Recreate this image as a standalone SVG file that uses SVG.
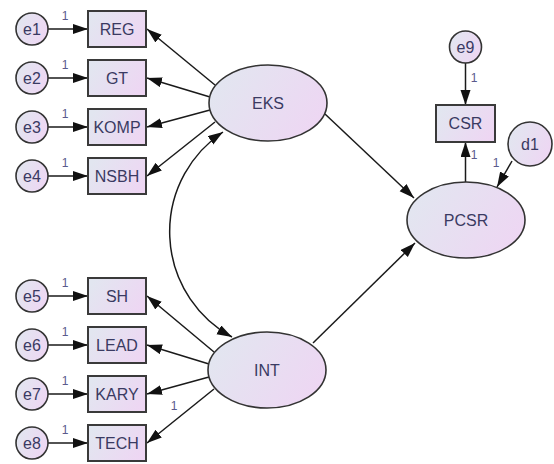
<svg xmlns="http://www.w3.org/2000/svg" width="554" height="464" viewBox="0 0 554 464">
  <defs>
    <linearGradient id="fillGrad" x1="0" y1="0.3" x2="1" y2="0.7">
      <stop offset="0" stop-color="#e2e6f0"/>
      <stop offset="1" stop-color="#eed6f3"/>
    </linearGradient>
    <marker id="arrow" markerUnits="userSpaceOnUse" markerWidth="16" markerHeight="11" refX="15" refY="5" orient="auto-start-reverse">
      <path d="M0,0 L15,5 L0,10 z" fill="#111"/>
    </marker>
    <style>
      .obs { fill: url(#fillGrad); stroke: #3a3a3a; stroke-width: 2; }
      .lat { fill: url(#fillGrad); stroke: #333; stroke-width: 1.6; }
      .err { fill: url(#fillGrad); stroke: #333; stroke-width: 1.6; }
      .lbl { font-family: "Liberation Sans", Arial, sans-serif; font-size: 16px; fill: #3a3a62; text-anchor: middle; }
      .one { font-family: "Liberation Sans", Arial, sans-serif; font-size: 12px; fill: #5a5a8c; text-anchor: middle; }
      .edge { stroke: #1a1a1a; stroke-width: 1.5; fill: none; marker-end: url(#arrow); }
      .cov { stroke: #1a1a1a; stroke-width: 1.5; fill: none; marker-end: url(#arrow); marker-start: url(#arrow); }
    </style>
  </defs>

  <!-- paths and the covariance arc -->
  <g id="connectors">
    <!-- error terms into indicators -->
    <line class="edge" x1="48" y1="29" x2="88" y2="29"/>
    <line class="edge" x1="48" y1="78" x2="88" y2="78"/>
    <line class="edge" x1="48" y1="127" x2="88" y2="127"/>
    <line class="edge" x1="48" y1="176" x2="88" y2="176"/>
    <line class="edge" x1="48" y1="296" x2="88" y2="296"/>
    <line class="edge" x1="48" y1="345" x2="88" y2="345"/>
    <line class="edge" x1="48" y1="394" x2="88" y2="394"/>
    <line class="edge" x1="48" y1="443" x2="88" y2="443"/>
    <!-- EKS loadings -->
    <line class="edge" x1="215" y1="85" x2="147" y2="29"/>
    <line class="edge" x1="210" y1="97" x2="147" y2="78"/>
    <line class="edge" x1="210" y1="110" x2="147" y2="127"/>
    <line class="edge" x1="215" y1="122" x2="147" y2="176"/>
    <!-- INT loadings -->
    <line class="edge" x1="214" y1="352" x2="147" y2="296"/>
    <line class="edge" x1="209" y1="364" x2="147" y2="345"/>
    <line class="edge" x1="209" y1="377" x2="147" y2="394"/>
    <line class="edge" x1="214" y1="389" x2="147" y2="443"/>
    <!-- structural paths -->
    <line class="edge" x1="325" y1="114" x2="414" y2="198"/>
    <line class="edge" x1="313" y1="343" x2="415" y2="243"/>
    <line class="edge" x1="465.5" y1="182" x2="465.5" y2="142"/>
    <line class="edge" x1="465.5" y1="63" x2="465.5" y2="105"/>
    <line class="edge" x1="512" y1="161" x2="497" y2="187"/>
    <!-- EKS <-> INT -->
    <path class="cov" d="M223,132 A120,120 0 0 0 232,337"/>
    <!-- fixed weights -->
    <text class="one" x="65" y="20">1</text>
    <text class="one" x="65" y="69">1</text>
    <text class="one" x="65" y="118">1</text>
    <text class="one" x="65" y="167">1</text>
    <text class="one" x="65" y="287">1</text>
    <text class="one" x="65" y="336">1</text>
    <text class="one" x="65" y="385">1</text>
    <text class="one" x="65" y="434">1</text>
    <text class="one" x="174" y="410">1</text>
    <text class="one" x="474" y="82">1</text>
    <text class="one" x="474" y="159">1</text>
    <text class="one" x="496" y="167">1</text>
  </g>

  <!-- error terms -->
  <g id="e1"><circle class="err" cx="32" cy="29" r="16"/><text class="lbl" x="32" y="34.5">e1</text></g>
  <g id="e2"><circle class="err" cx="32" cy="78" r="16"/><text class="lbl" x="32" y="83.5">e2</text></g>
  <g id="e3"><circle class="err" cx="32" cy="127" r="16"/><text class="lbl" x="32" y="132.5">e3</text></g>
  <g id="e4"><circle class="err" cx="32" cy="176" r="16"/><text class="lbl" x="32" y="181.5">e4</text></g>
  <g id="e5"><circle class="err" cx="32" cy="296" r="16"/><text class="lbl" x="32" y="301.5">e5</text></g>
  <g id="e6"><circle class="err" cx="32" cy="345" r="16"/><text class="lbl" x="32" y="350.5">e6</text></g>
  <g id="e7"><circle class="err" cx="32" cy="394" r="16"/><text class="lbl" x="32" y="399.5">e7</text></g>
  <g id="e8"><circle class="err" cx="32" cy="443" r="16"/><text class="lbl" x="32" y="448.5">e8</text></g>
  <g id="e9"><circle class="err" cx="465.5" cy="47" r="16"/><text class="lbl" x="465.5" y="52.5">e9</text></g>
  <g id="d1"><circle class="err" cx="530" cy="144" r="22"/><text class="lbl" x="530" y="149.5">d1</text></g>

  <!-- indicators -->
  <g id="REG"><rect class="obs" x="88" y="11" width="58" height="36"/><text class="lbl" x="117" y="34.5">REG</text></g>
  <g id="GT"><rect class="obs" x="88" y="60" width="58" height="36"/><text class="lbl" x="117" y="83.5">GT</text></g>
  <g id="KOMP"><rect class="obs" x="88" y="109" width="58" height="36"/><text class="lbl" x="117" y="132.5">KOMP</text></g>
  <g id="NSBH"><rect class="obs" x="88" y="158" width="58" height="36"/><text class="lbl" x="117" y="181.5">NSBH</text></g>
  <g id="SH"><rect class="obs" x="88" y="278" width="58" height="36"/><text class="lbl" x="117" y="301.5">SH</text></g>
  <g id="LEAD"><rect class="obs" x="88" y="327" width="58" height="36"/><text class="lbl" x="117" y="350.5">LEAD</text></g>
  <g id="KARY"><rect class="obs" x="88" y="376" width="58" height="36"/><text class="lbl" x="117" y="399.5">KARY</text></g>
  <g id="TECH"><rect class="obs" x="88" y="425" width="58" height="36"/><text class="lbl" x="117" y="448.5">TECH</text></g>
  <g id="CSR"><rect class="obs" x="436" y="105" width="59" height="37"/><text class="lbl" x="465.5" y="129">CSR</text></g>

  <!-- latent variables -->
  <g id="EKS"><ellipse class="lat" cx="268" cy="103" rx="59" ry="38"/><text class="lbl" x="268" y="108.5">EKS</text></g>
  <g id="INT"><ellipse class="lat" cx="267" cy="370" rx="59" ry="38"/><text class="lbl" x="267" y="375.5">INT</text></g>
  <g id="PCSR"><ellipse class="lat" cx="466" cy="220" rx="59" ry="38"/><text class="lbl" x="466" y="225.5">PCSR</text></g>
</svg>
